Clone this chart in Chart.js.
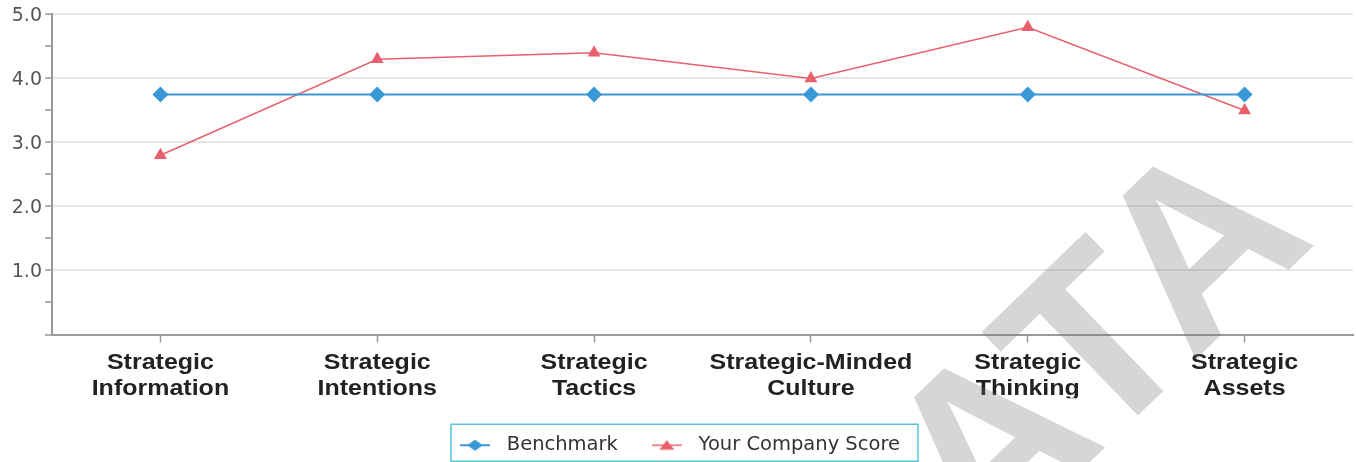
<!DOCTYPE html>
<html>
<head>
<meta charset="utf-8">
<script src="https://cdn.jsdelivr.net/npm/chart.js@4.4.1/dist/chart.umd.min.js"></script>
<style>
  body { margin: 0; background: #fff; }
  canvas { display: block; }
</style>
</head>
<body>
<canvas id="scoreChart" width="1356" height="462"></canvas>
<script>
const categories = [
  ['Strategic', 'Information'],
  ['Strategic', 'Intentions'],
  ['Strategic', 'Tactics'],
  ['Strategic-Minded', 'Culture'],
  ['Strategic', 'Thinking'],
  ['Strategic', 'Assets']
];
const benchmark = [3.75, 3.75, 3.75, 3.75, 3.75, 3.75];
const companyScore = [2.8, 4.3, 4.4, 4.0, 4.8, 3.5];
const yTicks = [1, 2, 3, 4, 5];

const blue = '#3a98d8';
const red = '#e8606b';

// small line + marker icon for the legend
function legendIcon(color, style, width) {
  const c = document.createElement('canvas');
  c.width = 30;
  c.height = 20;
  const g = c.getContext('2d');
  g.strokeStyle = color;
  g.fillStyle = color;
  g.lineWidth = width;
  g.beginPath();
  g.moveTo(0, 10);
  g.lineTo(30, 10);
  g.stroke();
  g.beginPath();
  if (style === 'diamond') {
    g.moveTo(15, 4.5); g.lineTo(23, 10); g.lineTo(15, 15.5); g.lineTo(7, 10);
  } else {
    g.moveTo(15, 5); g.lineTo(22.5, 14.5); g.lineTo(7.5, 14.5);
  }
  g.closePath();
  g.fill();
  return c;
}

// the category labels in the original are wide and flat, squash them a bit
const labelShape = {
  id: 'labelShape',
  beforeDraw(chart) {
    const x = chart.scales.x, y = chart.scales.y;
    if (!x._squashed) {
      const orig = x.drawLabels;
      x.drawLabels = function (area) {
        const ctx = this.ctx;
        ctx.save();
        ctx.translate(0, this.top);
        ctx.scale(1, 0.86);
        ctx.translate(0, -this.top);
        orig.call(this, area);
        ctx.restore();
      };
      x._squashed = true;
    }
    if (!y._shifted) {
      const origY = y.drawLabels;
      y.drawLabels = function (area) {
        this.ctx.save();
        this.ctx.translate(0, 2);
        origY.call(this, area);
        this.ctx.restore();
      };
      y._shifted = true;
    }
  }
};

const legendBorder = {
  id: 'legendBorder',
  afterDraw(chart) {
    const hb = chart.legend.legendHitBoxes;
    if (!hb || !hb.length) return;
    const last = hb[hb.length - 1];
    const left = hb[0].left - 2;
    const right = last.left + last.width + 18;
    const mid = hb[0].top + hb[0].height / 2;
    const ctx = chart.ctx;
    ctx.save();
    ctx.strokeStyle = '#56c6d6';
    ctx.lineWidth = 1.5;
    ctx.strokeRect(left, mid - 21, right - left, 37);
    ctx.restore();
  }
};

const watermark = {
  id: 'watermark',
  afterDraw(chart) {
    const ctx = chart.ctx;
    ctx.save();
    ctx.translate(1040, 416);
    ctx.rotate(-44 * Math.PI / 180);
    ctx.font = 'bold 245px "Liberation Sans", Arial, sans-serif';
    ctx.fillStyle = 'rgba(120,120,120,0.3)';
    ctx.textAlign = 'center';
    ctx.textBaseline = 'middle';
    ctx.fillText('DATA', 0, 0);
    ctx.restore();
  }
};

new Chart(document.getElementById('scoreChart'), {
  type: 'line',
  data: {
    labels: categories,
    datasets: [
      {
        label: 'Benchmark',
        data: benchmark,
        borderColor: blue,
        backgroundColor: blue,
        borderWidth: 2,
        pointStyle: 'rectRot',
        pointRadius: 8,
        pointBorderWidth: 0,
        tension: 0
      },
      {
        label: 'Your Company Score',
        data: companyScore,
        borderColor: red,
        backgroundColor: red,
        borderWidth: 1.5,
        pointStyle: 'triangle',
        pointRadius: 7.5,
        pointBorderWidth: 0,
        tension: 0
      }
    ]
  },
  options: {
    responsive: false,
    animation: false,
    devicePixelRatio: 1,
    layout: { autoPadding: false, padding: { top: 4, right: 3, left: 0, bottom: -3 } },
    plugins: {
      tooltip: { enabled: false },
      legend: {
        position: 'bottom',
        labels: {
          usePointStyle: true,
          pointStyleWidth: 44,
          boxHeight: 20,
          padding: 27,
          color: '#333',
          font: { family: '"DejaVu Sans", sans-serif', size: 19.5 },
          generateLabels: chart => chart.data.datasets.map((ds, i) => ({
            text: ds.label,
            datasetIndex: i,
            fillStyle: ds.borderColor,
            strokeStyle: ds.borderColor,
            fontColor: '#333',
            lineWidth: 0,
            hidden: false,
            pointStyle: i === 0 ? legendIcon(blue, 'diamond', 2) : legendIcon(red, 'triangle', 1.5)
          }))
        }
      }
    },
    scales: {
      x: {
        type: 'category',
        offset: true,
        afterFit: scale => {
          scale.height = 74;
          scale.paddingLeft = 0;
          scale.paddingRight = 0;
        },
        border: { display: true, color: '#999', width: 2 },
        grid: {
          offset: false,
          drawOnChartArea: false,
          drawTicks: true,
          tickLength: 8,
          tickColor: '#999',
          tickWidth: 1.5
        },
        ticks: {
          color: '#222',
          maxRotation: 0,
          autoSkip: false,
          padding: 10,
          font: { family: '"Liberation Sans", Arial, sans-serif', size: 25, weight: 'bold', lineHeight: 1.2 }
        }
      },
      y: {
        min: 0,
        max: 5,
        afterFit: scale => { scale.width = 52; },
        border: { display: true, color: '#999', width: 2 },
        grid: {
          color: ctx => (ctx.tick && yTicks.includes(ctx.tick.value)) ? '#e6e6e6' : 'rgba(0,0,0,0)',
          lineWidth: 2,
          drawTicks: true,
          tickLength: 7,
          tickColor: '#999',
          tickWidth: 1.5
        },
        ticks: {
          stepSize: 0.5,
          padding: 3,
          color: '#555',
          font: { family: '"DejaVu Sans", sans-serif', size: 19 },
          callback: v => yTicks.includes(v) ? v.toFixed(1) : ''
        }
      }
    }
  },
  plugins: [labelShape, legendBorder, watermark]
});
</script>
</body>
</html>
